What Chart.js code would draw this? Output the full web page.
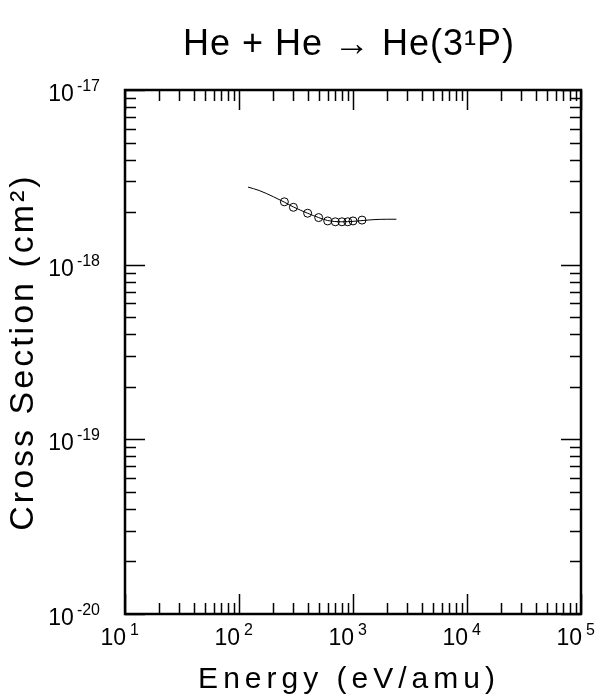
<!DOCTYPE html>
<html>
<head>
<meta charset="utf-8">
<script src="https://cdn.jsdelivr.net/npm/chart.js@4"></script>
<style>
  html, body { margin: 0; padding: 0; background: #fff; }
  #wrap { width: 598px; height: 696px; }
</style>
</head>
<body>
<div id="wrap"><canvas id="xsec-chart"></canvas></div>
<script>
// fitted curve
const curveEnergy = [120, 150, 200, 250, 300, 400, 500, 600, 800, 1000, 1500, 2000, 2400];
const curveSigma = [2.78e-18, 2.66e-18, 2.45e-18, 2.28e-18, 2.14e-18, 1.97e-18, 1.86e-18, 1.79e-18, 1.76e-18, 1.77e-18, 1.81e-18, 1.82e-18, 1.82e-18];

// measured points (circles)
const dataEnergy = [250, 300, 400, 500, 600, 700, 800, 900, 1000, 1200];
const dataSigma = [2.29e-18, 2.13e-18, 1.97e-18, 1.86e-18, 1.78e-18, 1.76e-18, 1.76e-18, 1.76e-18, 1.78e-18, 1.80e-18];

const xRange = [1e1, 1e5];
const yRange = [1e-20, 1e-17];
const xLabelExp = [1, 2, 3, 4, 5];
const yLabelExp = [-20, -19, -18, -17];

const chartTitle = 'He + He \u2192 He(3\u00b9P)';
const xTitle = 'Energy (eV/amu)';
const yTitle = 'Cross Section (cm\u00b2)';

const FONT = '"Liberation Sans"';

function logTickValues(min, max) {
  let out = [];
  for (let e = Math.round(Math.log10(min)); e < Math.round(Math.log10(max)) + 1; e++) {
    for (let m = 1; m <= 9; m++) {
      let v = m * Math.pow(10, e);
      if (v >= min * 0.999 && v <= max * 1.001) out.push({ v: v, major: m === 1 });
    }
  }
  return out;
}

// border box, inward ticks on all four sides, 10^n labels and titles
const frame = {
  id: 'frame',
  afterDraw(chart) {
    let ctx = chart.ctx;
    let a = chart.chartArea;
    let xs = chart.scales.x, ys = chart.scales.y;
    ctx.save();
    ctx.strokeStyle = '#000';
    ctx.lineWidth = 1.5;
    ctx.beginPath();
    logTickValues(xRange[0], xRange[1]).forEach(t => {
      let px = Math.round(xs.getPixelForValue(t.v)) + 0.5;
      let len = t.major ? 20 : 11;
      ctx.moveTo(px, a.bottom); ctx.lineTo(px, a.bottom - len);
      ctx.moveTo(px, a.top); ctx.lineTo(px, a.top + len);
    });
    logTickValues(yRange[0], yRange[1]).forEach(t => {
      let py = Math.round(ys.getPixelForValue(t.v)) + 0.5;
      let len = t.major ? 20 : 11;
      ctx.moveTo(a.left, py); ctx.lineTo(a.left + len, py);
      ctx.moveTo(a.right, py); ctx.lineTo(a.right - len, py);
    });
    ctx.stroke();
    ctx.lineWidth = 2.5;
    ctx.strokeRect(a.left, a.top, a.right - a.left, a.bottom - a.top);

    ctx.fillStyle = '#000';
    ctx.textBaseline = 'alphabetic';

    // x tick labels
    xLabelExp.forEach(e => {
      let px = xs.getPixelForValue(Math.pow(10, e));
      ctx.font = '23px ' + FONT;
      ctx.textAlign = 'right';
      ctx.fillText('10', px + 1, 645);
      ctx.font = '16px ' + FONT;
      ctx.textAlign = 'left';
      ctx.fillText(String(e), px + 5, 635);
    });

    // y tick labels
    yLabelExp.forEach(e => {
      let py = ys.getPixelForValue(Math.pow(10, e));
      let right = a.left - 25;
      ctx.font = '16px ' + FONT;
      ctx.textAlign = 'right';
      let es = String(e);
      ctx.fillText(es, right, py + 1);
      let w = ctx.measureText(es).width;
      ctx.font = '23px ' + FONT;
      ctx.fillText('10', right - w - 3, py + 11);
    });

    let cx = (a.left + a.right) / 2;
    ctx.textAlign = 'center';
    ctx.letterSpacing = '1px';
    ctx.font = '36px ' + FONT;
    ctx.fillText(chartTitle, cx - 4, 55);

    ctx.letterSpacing = '5px';
    ctx.font = '30px ' + FONT;
    ctx.fillText(xTitle, cx - 4, 688);

    ctx.letterSpacing = '3px';
    ctx.font = '34px ' + FONT;
    ctx.translate(33, (a.top + a.bottom) / 2);
    ctx.rotate(-Math.PI / 2);
    ctx.fillText(yTitle, 0, 0);
    ctx.restore();
  }
};

let ctx = document.getElementById('xsec-chart').getContext('2d');

let chart = new Chart(ctx, {
  type: 'scatter',
  data: {
    datasets: [{
      label: 'fit',
      data: curveEnergy.map((e, i) => ({ x: e, y: curveSigma[i] })),
      showLine: true,
      borderColor: '#000',
      borderWidth: 1,
      pointRadius: 0,
      cubicInterpolationMode: 'monotone',
      fill: false
    }, {
      label: 'data',
      data: dataEnergy.map((e, i) => ({ x: e, y: dataSigma[i] })),
      showLine: false,
      pointStyle: 'circle',
      pointRadius: 4,
      borderWidth: 1,
      borderColor: '#000',
      backgroundColor: 'rgba(0,0,0,0)'
    }]
  },
  options: {
    responsive: true,
    maintainAspectRatio: false,
    animation: false,
    layout: {
      padding: { top: 90, right: 17, bottom: 0, left: 0 }
    },
    plugins: {
      legend: { display: false },
      tooltip: { enabled: false }
    },
    scales: {
      x: {
        type: 'logarithmic',
        min: xRange[0],
        max: xRange[1],
        grid: { display: false, drawTicks: false },
        border: { display: false },
        ticks: { display: false },
        afterFit(s) {
          s.height = 82;
          s.paddingLeft = 0;
          s.paddingRight = 0;
        }
      },
      y: {
        type: 'logarithmic',
        min: yRange[0],
        max: yRange[1],
        grid: { display: false, drawTicks: false },
        border: { display: false },
        ticks: { display: false },
        afterFit(s) {
          s.width = 125;
          s.paddingTop = 0;
          s.paddingBottom = 0;
        }
      }
    }
  },
  plugins: [frame]
});
</script>
</body>
</html>
